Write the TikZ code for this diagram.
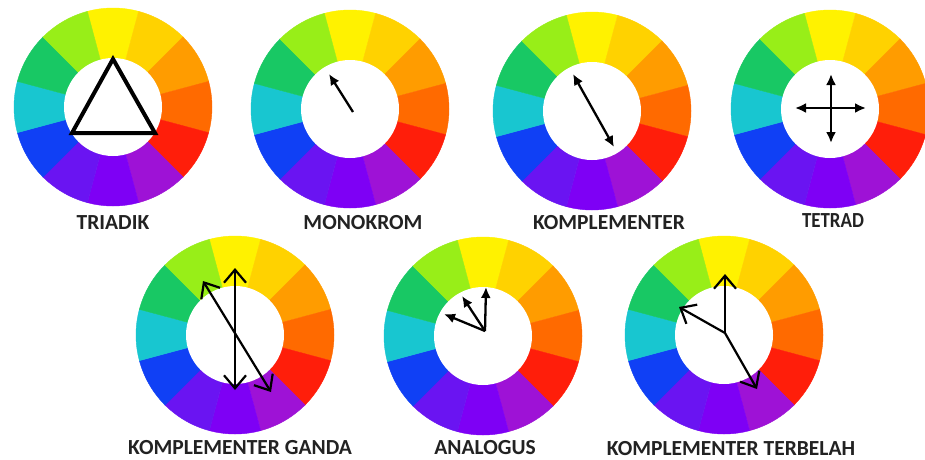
\documentclass[tikz,border=0pt]{standalone}
\usepackage{fontspec}
\setmainfont{Carlito}
\usetikzlibrary{arrows.meta}
\definecolor{cY}{HTML}{FFF200}
\definecolor{cYO}{HTML}{FFD200}
\definecolor{cO}{HTML}{FF9C00}
\definecolor{cRO}{HTML}{FF6A00}
\definecolor{cR}{HTML}{FF1E0A}
\definecolor{cRV}{HTML}{9E12D6}
\definecolor{cV}{HTML}{7E00F5}
\definecolor{cBV}{HTML}{6A14F2}
\definecolor{cB}{HTML}{1040F5}
\definecolor{cC}{HTML}{18C6D0}
\definecolor{cG}{HTML}{18C864}
\definecolor{cYG}{HTML}{98EE18}
\definecolor{labelgray}{HTML}{222222}
\newcommand{\cwheel}[3]{%
  \coordinate (#1) at (#2,-#3);
  \foreach \a/\c in {90/cY,60/cYO,30/cO,0/cRO,-30/cR,-60/cRV,-90/cV,-120/cBV,-150/cB,180/cC,150/cG,120/cYG}{
    \fill[\c, draw=\c, line width=0.4pt] (#1) -- ++(\a-15:99) arc[start angle=\a-15, end angle=\a+15, radius=99] -- cycle;
  }
  \fill[white] (#1) circle[radius=49];
}
\tikzset{
  x=1pt, y=1pt,
  lbl/.style={font=\fontsize{21.5}{22}\selectfont\bfseries, text=labelgray, anchor=base, inner sep=0pt},
  fillhead/.tip={Latex[length=11pt,width=10pt]},
  openhead/.tip={Straight Barb[length=13pt,width=22pt,line width=2.2pt]},
  thinarrow/.style={line width=2.3pt, -fillhead},
  thinboth/.style={line width=2.3pt, fillhead-fillhead},
  openarrow/.style={line width=2.2pt, -openhead},
  openboth/.style={line width=2.2pt, openhead-openhead},
  tri/.style={line width=4pt, line join=miter}
}
\begin{document}
\begin{tikzpicture}
\fill[white] (0,0) rectangle (925,-459);
\useasboundingbox (0,0) rectangle (925,-459);

% wheels
\cwheel{w1}{113}{107}
\cwheel{w2}{350}{109}
\cwheel{w3}{592}{111}
\cwheel{w4}{830}{109}
\cwheel{w5}{235}{335}
\cwheel{w6}{483}{336}
\cwheel{w7}{724}{335}

% TRIADIK
\coordinate (t1) at (113,-59);
\coordinate (t2) at (72,-133);
\coordinate (t3) at (155,-133);
\draw[tri] (t1) -- (t2) -- (t3) -- cycle;

% MONOKROM
\coordinate (m0) at (353,-112);
\coordinate (m1) at (329,-74);
\draw[thinarrow] (m0) -- (m1);

% KOMPLEMENTER
\coordinate (k1) at (573,-74);
\coordinate (k2) at (614,-147);
\draw[thinboth] (k1) -- (k2);

% TETRAD
\coordinate (h1) at (795,-108);
\coordinate (h2) at (866,-108);
\coordinate (v1) at (831,-74);
\coordinate (v2) at (831,-143);
\draw[thinboth] (h1) -- (h2);
\draw[thinboth] (v1) -- (v2);

% KOMPLEMENTER GANDA
\coordinate (g1) at (235,-268);
\coordinate (g2) at (235,-390);
\coordinate (g3) at (203,-281);
\coordinate (g4) at (271,-392);
\draw[openboth] (g1) -- (g2);
\draw[openboth] (g3) -- (g4);

% ANALOGUS
\coordinate (a0) at (485,-331);
\coordinate (a1) at (486,-287);
\coordinate (a2) at (462,-296);
\coordinate (a3) at (444,-314);
\draw[thinarrow] (a0) -- (a1);
\draw[thinarrow] (a0) -- (a2);
\draw[thinarrow] (a0) -- (a3);

% KOMPLEMENTER TERBELAH
\coordinate (b0) at (725,-333);
\coordinate (b1) at (725,-274);
\coordinate (b2) at (679,-307);
\coordinate (b3) at (757,-389);
\draw[openarrow] (b0) -- (b1);
\draw[openarrow] (b0) -- (b2);
\draw[openarrow] (b0) -- (b3);

% labels
\node[lbl] (l1) at (113,-229) {TRIADIK};
\node[lbl] (l2) at (363,-229) {MONOKROM};
\node[lbl] (l3) at (609,-229) {KOMPLEMENTER};
\node[lbl, xscale=0.88] (l4) at (833,-227) {TETRAD};
\node[lbl] (l5) at (240,-454) {KOMPLEMENTER GANDA};
\node[lbl] (l6) at (485,-454) {ANALOGUS};
\node[lbl] (l7) at (731,-455) {KOMPLEMENTER TERBELAH};
\end{tikzpicture}
\end{document}
